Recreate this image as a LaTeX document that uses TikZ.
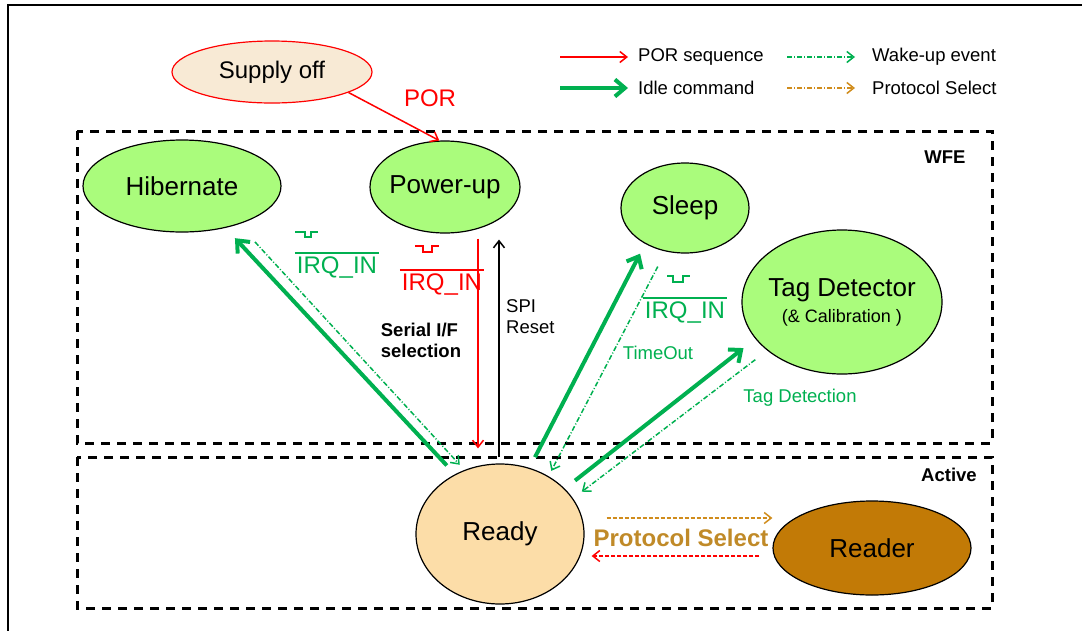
\documentclass[tikz,border=0pt]{standalone}
\usepackage{fontspec}
\setmainfont{Liberation Sans}
\usetikzlibrary{arrows.meta,shapes.geometric}
\definecolor{stategreen}{HTML}{AAFC7C}
\definecolor{idlegreen}{HTML}{00B050}
\definecolor{porred}{HTML}{FF0000}
\definecolor{supfill}{HTML}{F8EAD5}
\definecolor{readyfill}{HTML}{FCDDA8}
\definecolor{readerfill}{HTML}{C27A06}
\definecolor{selbrown}{HTML}{D08C1C}
\definecolor{seltext}{HTML}{C08A28}

\begin{document}
\begin{tikzpicture}[
	x=1pt, y=-1pt,
	>={Straight Barb[length=7pt,width=11pt]},
	phase/.style={draw,ellipse,line width=1.2pt,fill=stategreen,inner xsep=-6pt,inner ysep=0pt,align=center,font=\fontsize{26}{28}\selectfont},
	zone/.style={line width=3pt,dash pattern=on 9pt off 7pt},
	por/.style={draw=porred,line width=1.5pt},
	idle/.style={draw=idlegreen,line width=4pt,-{Straight Barb[length=10pt,width=17pt]}},
	wake/.style={draw=idlegreen,line width=1.5pt,dash pattern=on 5pt off 2pt on 1pt off 2pt,->},
	sel/.style={draw=selbrown,line width=1.5pt,dash pattern=on 4pt off 2pt},
	lbl/.style={font=\fontsize{18.5}{21}\selectfont,inner sep=0pt},
	boldlbl/.style={lbl,font=\fontsize{18.5}{21}\selectfont\bfseries},
	big/.style={font=\fontsize{24}{26}\selectfont,inner sep=0pt},
	irq/.style={font=\fontsize{24}{26}\selectfont,inner xsep=2pt,inner ysep=3pt,anchor=base}
	]
	\useasboundingbox (0,0) rectangle (1082,630);
	\draw[line width=2pt] (8,632) -- (8,5) -- (1084,5);
	% WFE and Active areas
	\draw[zone] (77,131) rectangle (992,443);
	\draw[zone] (77,457) rectangle (992,608);
	\node[boldlbl] (wfe) at (945,157) {WFE};
	\node[boldlbl] (act) at (949,475) {Active};

	% legend
	\node[lbl,anchor=west] (lgpor) at (638,57) {POR sequence};
	\node[lbl,anchor=west] (lgidle) at (638,88) {Idle command};
	\node[lbl,anchor=west] (lgwake) at (872,57) {Wake-up event};
	\node[lbl,anchor=west] (lgsel) at (872,88) {Protocol Select};
	\draw[por,->] ([xshift=-78pt]lgpor.west) -- ([xshift=-10pt]lgpor.west);
	\draw[idle] ([xshift=-78pt]lgidle.west) -- ([xshift=-10pt]lgidle.west);
	\draw[wake] ([xshift=-85pt]lgwake.west) -- ([xshift=-17pt]lgwake.west);
	\draw[wake,draw=selbrown] ([xshift=-85pt]lgsel.west) -- ([xshift=-17pt]lgsel.west);

	% states
	\node[phase,draw=porred,fill=supfill,minimum width=200pt,minimum height=62pt,font=\fontsize{24}{26}\selectfont] (sup) at (272,72) {Supply off};
	\node[phase,minimum width=198pt,minimum height=92pt] (hib) at (182,186) {Hibernate};
	\node[phase,minimum width=150pt,minimum height=92pt] (pwr) at (445,187) {Power-up};
	\node[phase,minimum width=128pt,minimum height=90pt] (slp) at (685,208) {Sleep};
	\node[phase,minimum width=200pt,minimum height=144pt] (tag) at (842,302) {Tag Detector\\[-2pt]{\fontsize{18}{20}\selectfont(\& Calibration )}};
	\node[phase,fill=readyfill,minimum width=168pt,minimum height=140pt] (rdy) at (500,534) {Ready};
	\node[phase,fill=readerfill,minimum width=198pt,minimum height=94pt] (rdr) at (872,548) {Reader};

	% labels
	\node[big,text=porred] (porlbl) at (430,98) {POR};
	\node[irq,text=idlegreen] (irqa) at (337,273) {IRQ\_IN};
	\node[irq,text=porred] (irqb) at (442,290) {IRQ\_IN};
	\node[irq,text=idlegreen] (irqc) at (685,318) {IRQ\_IN};
	\draw[idlegreen,line width=1.5pt] (irqa.north west) -- (irqa.north east);
	\draw[porred,line width=1.5pt] (irqb.north west) -- (irqb.north east);
	\draw[idlegreen,line width=1.5pt] (irqc.north west) -- (irqc.north east);
	\draw[idlegreen,line width=1.5pt] ([xshift=-42pt,yshift=21pt]irqa.north) -- ++(10,0) -- ++(0,5) -- ++(6,0) -- ++(0,-5) -- ++(7,0);
	\draw[porred,line width=1.5pt] ([xshift=-27pt,yshift=24pt]irqb.north) -- ++(8,0) -- ++(0,6) -- ++(9,0) -- ++(0,-6) -- ++(7,0);
	\draw[idlegreen,line width=1.5pt] ([xshift=-18pt,yshift=22pt]irqc.north) -- ++(6,0) -- ++(0,6) -- ++(10,0) -- ++(0,-6) -- ++(7,0);
	\node[boldlbl,align=left] (serif) at (421,340) {Serial I/F\\selection};
	\node[lbl,align=left,anchor=west] (spi) at (506,317) {SPI\\Reset};
	\node[lbl,text=idlegreen] (tmo) at (658,353) {TimeOut};
	\node[lbl,text=idlegreen] (tdet) at (800,398) {Tag Detection};
	\node[big,font=\fontsize{24}{26}\selectfont\bfseries,text=seltext] (psel) at (681,538) {Protocol Select};

	% transitions
	\draw[por,->] (sup.-15) -- (pwr.97);
	\draw[por,->] ([xshift=33pt,yshift=-5pt]pwr.south) -- ([xshift=-22pt,yshift=15pt]rdy.north);
	\draw[line width=1.5pt,->] ([xshift=-1pt,yshift=6pt]rdy.north) -- ([xshift=54pt,yshift=-6pt]pwr.south);
	\draw[idle,shorten <=12pt,shorten >=14pt] (rdy.127) -- (hib.-44);
	\draw[wake,shorten <=24pt,shorten >=7pt] (hib.-34) -- (rdy.119);
	\draw[idle,shorten <=12pt,shorten >=11pt] (rdy.66) -- (slp.222);
	\draw[wake,shorten <=17pt,shorten >=6pt] (slp.246) -- (rdy.50);
	\draw[idle,shorten <=13pt,shorten >=15pt] (rdy.35) -- (tag.203);
	\draw[wake,shorten <=15pt,shorten >=11pt] (tag.213) -- (rdy.26);
	\draw[sel,->] ([xshift=22pt,yshift=16pt]rdy.east) -- ([yshift=30pt]rdr.west);
	\draw[por,dash pattern=on 4pt off 2pt,->] ([xshift=-13pt,yshift=-8pt]rdr.west) -- ([xshift=7pt,yshift=-22pt]rdy.east);
\end{tikzpicture}
\end{document}
